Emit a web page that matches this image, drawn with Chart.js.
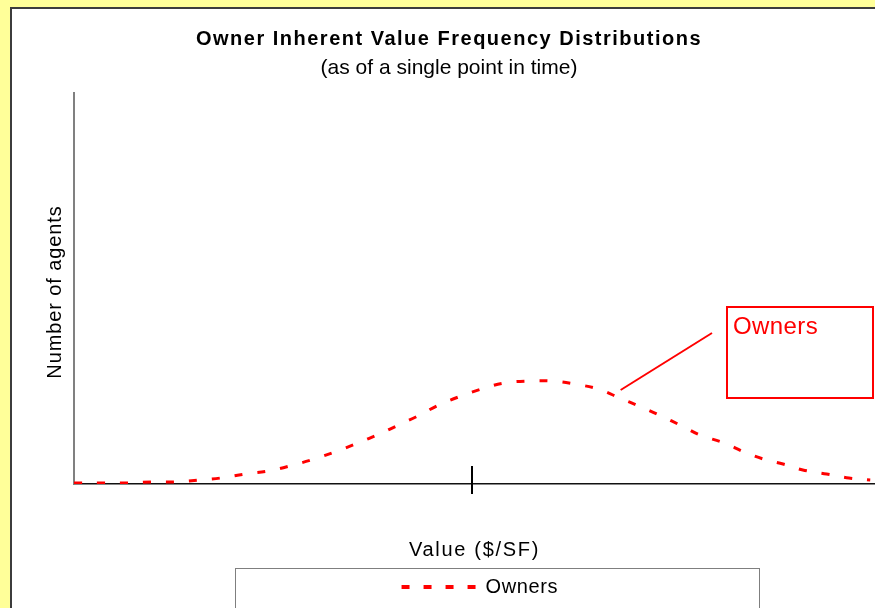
<!DOCTYPE html>
<html><head><meta charset="utf-8">
<script src="https://cdn.jsdelivr.net/npm/chart.js@4"></script>
<style>
html,body{margin:0;padding:0;background:#FFFF99;overflow:hidden;width:875px;height:608px;}
#panel{position:absolute;left:10px;top:7px;width:900px;height:700px;background:#fff;border-left:2px solid #3c3c3c;border-top:2px solid #3c3c3c;}
#wrap{position:absolute;left:0;top:0;width:875px;height:608px;}
</style></head><body>
<div id="panel"></div>
<div id="wrap"><canvas id="c" width="875" height="608"></canvas></div>
<script>
const titleText = 'Owner Inherent Value Frequency Distributions';
const subtitleText = '(as of a single point in time)';
const xAxisTitle = 'Value ($/SF)';
const yAxisTitle = 'Number of agents';
const seriesName = 'Owners';
const calloutText = 'Owners';
const xValues = [0, 3.7, 6.7, 9.7, 12.7, 15.8, 18.5, 21.6, 24.5, 27.2, 30.3, 33.2, 35.8, 38.5, 41.2, 43.1, 46.0, 48.8, 51.4, 54.2, 57.2, 60.3, 63.1, 66.1, 68.8, 71.2, 73.8, 76.9, 78.9, 82.0, 84.5, 86.9, 89.4, 91.9, 94.9, 97.7, 100.4];
const ownerCounts = [1, 1, 1, 2, 2, 4, 6, 10, 13, 18, 25, 33, 41, 50, 60, 67, 79, 88, 95, 101, 103, 103, 100, 95, 86, 78, 69, 57, 49, 41, 32, 25, 20, 14, 10, 6, 4];
const xTickValues = [50];
const xRange = [0, 101];
const yRange = [0, 391];
const calloutAnchorX = 68.8;

const FAMILY = "'Liberation Sans', Arial, sans-serif";
const points = xValues.map((v, i) => ({x: v, y: ownerCounts[i]}));

function withSpacing(obj, method, spacing, dx, dy) {
  if (!obj || obj['__w_' + method]) return;
  const orig = obj[method];
  obj[method] = function (...args) {
    const ctx = this.ctx;
    ctx.save();
    try { ctx.letterSpacing = spacing; } catch (e) {}
    ctx.translate(dx || 0, dy || 0);
    const r = orig.apply(this, args);
    ctx.restore();
    return r;
  };
  obj['__w_' + method] = true;
}

const spacingPlugin = {
  id: 'spacing',
  afterLayout(chart) {
    withSpacing(chart.titleBlock, 'draw', '1.5px');
    withSpacing(chart.legend, 'draw', '0.6px', 3.5, 0);
    withSpacing(chart.scales.x, 'drawTitle', '1.7px');
    withSpacing(chart.scales.y, 'drawTitle', '0.9px', 0, 3.5);
  }
};

const decor = {
  id: 'decor',
  afterDraw(chart) {
    const {ctx, chartArea, scales: {x, y}} = chart;
    ctx.save();
    ctx.strokeStyle = '#000';
    ctx.lineWidth = 2;
    xTickValues.forEach(v => {
      const px = Math.round(x.getPixelForValue(v)) + 1;
      ctx.beginPath();
      ctx.moveTo(px, chartArea.bottom - 18);
      ctx.lineTo(px, chartArea.bottom + 10);
      ctx.stroke();
    });
    ctx.strokeStyle = '#7f7f7f';
    ctx.lineWidth = 1;
    ctx.strokeRect(235.5, 568.5, 524, 80);
    const idx = xValues.indexOf(calloutAnchorX);
    const ax = x.getPixelForValue(calloutAnchorX) + 1;
    const ay = y.getPixelForValue(ownerCounts[idx]) - 8;
    ctx.strokeStyle = '#ff0000';
    ctx.lineWidth = 2;
    ctx.beginPath();
    ctx.moveTo(ax, ay);
    ctx.lineTo(712, 333);
    ctx.stroke();
    ctx.strokeRect(727, 307, 146, 91);
    ctx.fillStyle = '#ff0000';
    ctx.font = '24px ' + FAMILY;
    try { ctx.letterSpacing = '0.4px'; } catch (e) {}
    ctx.textBaseline = 'middle';
    ctx.textAlign = 'left';
    ctx.fillText(calloutText, 733, 327);
    ctx.restore();
  }
};

new Chart(document.getElementById('c'), {
  type: 'line',
  data: {
    datasets: [{
      label: seriesName,
      data: points,
      borderColor: '#ff0000',
      backgroundColor: '#ff0000',
      borderWidth: 3,
      borderDash: [8, 15],
      pointRadius: 0,
      tension: 0.35,
      fill: false
    }]
  },
  options: {
    responsive: false,
    animation: false,
    devicePixelRatio: 1,
    layout: {padding: {left: 23, right: 0, top: 0, bottom: 1}},
    plugins: {
      title: {
        display: true, text: titleText, color: '#000',
        font: {family: FAMILY, size: 20, weight: 'bold'},
        padding: {top: 27.5, bottom: 0}
      },
      subtitle: {
        display: true, text: subtitleText, color: '#000',
        font: {family: FAMILY, size: 21},
        padding: {top: 3.9, bottom: 12.4}
      },
      legend: {
        position: 'bottom', fullSize: false,
        labels: {
          usePointStyle: true, pointStyle: 'line', pointStyleWidth: 74,
          color: '#000', font: {family: FAMILY, size: 20}, padding: 14.5,
          generateLabels: chart => Chart.defaults.plugins.legend.labels.generateLabels(chart).map(l => Object.assign({}, l, {
            lineDash: [8, 14], lineWidth: 4, strokeStyle: '#ff0000', fillStyle: '#ff0000'
          }))
        }
      },
      tooltip: {enabled: false}
    },
    scales: {
      x: {
        type: 'linear', min: xRange[0], max: xRange[1],
        grid: {display: false, drawTicks: false},
        border: {display: true, color: '#111', width: 1.5},
        ticks: {display: false},
        title: {display: true, text: xAxisTitle, color: '#000', font: {family: FAMILY, size: 20}, padding: {top: 0, bottom: 0}},
        afterFit: s => { s.height = 78.5; }
      },
      y: {
        type: 'linear', min: yRange[0], max: yRange[1],
        grid: {display: false, drawTicks: false},
        border: {display: true, color: '#808080', width: 2},
        ticks: {display: false},
        title: {display: true, text: yAxisTitle, color: '#000', font: {family: FAMILY, size: 20}, padding: {top: 20, bottom: 0}},
        afterFit: s => { s.width = 51; }
      }
    }
  },
  plugins: [spacingPlugin, decor]
});
</script>
</body></html>
